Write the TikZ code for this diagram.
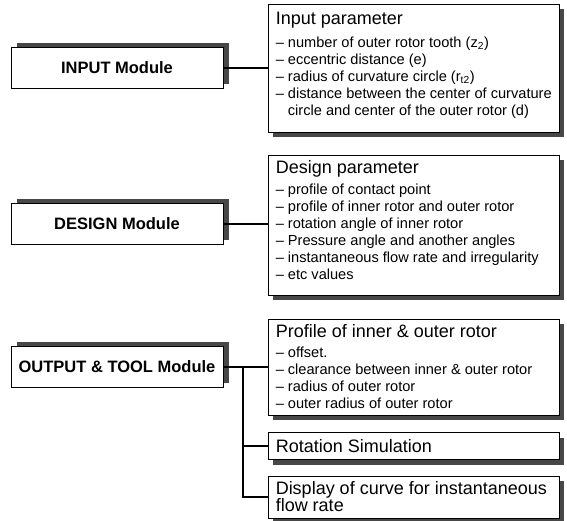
\documentclass[tikz,border=0pt]{standalone}
\usepackage{fontspec}
\setmainfont{Liberation Sans}
\usetikzlibrary{shadows}
\newcommand{\ttl}{\fontsize{18}{18}\selectfont}
\begin{document}
\begin{tikzpicture}[x=1pt,y=-1pt,
  modbox/.style={draw=black, line width=0.9pt, fill=white, minimum width=212pt, minimum height=41pt, inner sep=0pt,
    font=\fontsize{16.5}{16.5}\selectfont\bfseries,
    general shadow={fill=black!72, shadow xshift=6pt, shadow yshift=5pt}},
  parbox/.style={draw=black, line width=0.9pt, fill=white, inner sep=0pt, minimum width=291pt,
    general shadow={fill=black!72, shadow xshift=5pt, shadow yshift=-5pt}},
  txt/.style={align=left, inner sep=0pt, anchor=north west, font=\fontsize{14.6}{17}\selectfont},
  conn/.style={line width=1.8pt}]
\useasboundingbox (0,0) rectangle (567,520);

% left module boxes
\node[modbox] (inp) at (117,68) {INPUT Module};
\node[modbox] (des) at (117,224) {DESIGN Module};
\node[modbox] (outm) at (117,367) {OUTPUT \& TOOL Module};

% right parameter boxes
\node[parbox, minimum height=128pt] (inpar) at (413.5,68) {};
\node[parbox, minimum height=140pt] (despar) at (413.5,225) {};
\node[parbox, minimum height=96pt] (prof) at (413.5,367) {};
\node[parbox, minimum height=27pt] (rot) at (413.5,446) {};
\node[parbox, minimum height=42pt] (disp) at (413.5,497) {};

% texts
\node[txt] (inpartx) at ([xshift=8pt,yshift=-8pt]inpar.north west)
  {{\ttl Input parameter}\\[6pt]
   – number of outer rotor tooth (z\textsubscript{2})\\
   – eccentric distance (e)\\
   – radius of curvature circle (r\textsubscript{t2})\\
   – distance between the center of curvature\\
   \hphantom{– }circle and center of the outer rotor (d)};
\node[txt] (desparx) at ([xshift=8pt,yshift=-6pt]despar.north west)
  {{\ttl Design parameter}\\[4pt]
   – profile of contact point\\
   – profile of inner rotor and outer rotor\\
   – rotation angle of inner rotor\\
   – Pressure angle and another angles\\
   – instantaneous flow rate and irregularity\\
   – etc values};
\node[txt] (proftx) at ([xshift=8pt,yshift=-6pt]prof.north west)
  {{\ttl Profile of inner \& outer rotor}\\[3pt]
   – offset.\\
   – clearance between inner \& outer rotor\\
   – radius of outer rotor\\
   – outer radius of outer rotor};
\node[txt, anchor=west, font=\ttl] (rottx) at ([xshift=8pt]rot.west) {Rotation Simulation};
\node[txt, font=\fontsize{18}{17}\selectfont] (disptx) at ([xshift=8pt,yshift=-6pt]disp.north west)
  {Display of curve for instantaneous\\flow rate};

% connectors
\draw[conn] (inp.east) -- (inp.east -| inpar.west);
\draw[conn] (des.east) -- (des.east -| despar.west);
\draw[conn] (outm.east) -- (outm.east -| prof.west);
\coordinate (trunk) at (243,367);
\draw[conn] (trunk) |- (disp.west);
\draw[conn] (trunk |- rot.west) -- (rot.west);
\end{tikzpicture}
\end{document}
